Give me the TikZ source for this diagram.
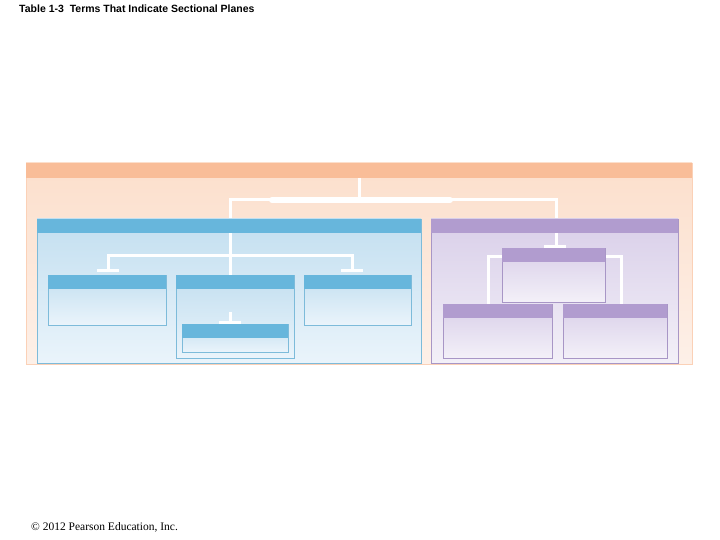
\documentclass[tikz,border=0pt]{standalone}
\usepackage{fontspec}
\setmainfont{Liberation Serif}
\newfontfamily\arialf{Liberation Sans}
\begin{document}
\begin{tikzpicture}[x=1pt,y=-1pt,
  wire/.style={draw=white,line width=3pt},
  bluebox/.style={draw=blueL,line width=0.6pt,top color=blueA,bottom color=blueB},
  purbox/.style={draw=purL,line width=0.6pt,top color=purA,bottom color=purB},
  bluehd/.style={fill=blueH},
  purhd/.style={fill=purH}]
\definecolor{blueA}{HTML}{C3DFF0}\definecolor{blueB}{HTML}{EAF4FB}\definecolor{blueH}{HTML}{67B6DC}\definecolor{blueL}{HTML}{7DBBDA}
\definecolor{purA}{HTML}{D9CFE9}\definecolor{purB}{HTML}{F3F0F8}\definecolor{purH}{HTML}{B19CCF}\definecolor{purL}{HTML}{A896C6}
\definecolor{orA}{HTML}{FCDFCC}\definecolor{orB}{HTML}{FDF0E8}\definecolor{orH}{HTML}{F9BD98}
\useasboundingbox (0,0) rectangle (720,540);
\fill[white] (0,0) rectangle (720,540);
\node[anchor=west,inner sep=0pt,font=\arialf\bfseries\fontsize{10.5}{12}\selectfont] (title) at (19,9) {Table 1-3\ \ Terms That Indicate Sectional Planes};
\node[anchor=west,inner sep=0pt,font=\fontsize{11.5}{13}\selectfont] (foot) at (31,527) {© 2012 Pearson Education, Inc.};
% outer
\path[top color=orA,bottom color=orB,draw=orH!70,line width=0.6pt] (26,163) rectangle (692,364);
\fill[orH] (26,163) rectangle (692,178);
% connectors top
\draw[wire] (359,178) -- (359,200);
\draw[wire] (230,219) -- (230,200) -- (556,200) -- (556,219);
\draw[white,line width=6pt,line cap=round] (272,200) -- (450,200);
% blue panel
\path[bluebox] (37,219) rectangle (421,363);
\fill[bluehd] (37,219) rectangle (421,233);
\draw[wire] (230,233) -- (230,275);
\draw[wire] (108,270) -- (108,255) -- (352,255) -- (352,270);
\draw[white,line width=3pt] (97,270) -- (119,270) (341,270) -- (363,270);
\path[bluebox] (48,275) rectangle (166,325); \fill[bluehd] (48,275) rectangle (166,289);
\path[bluebox] (176,275) rectangle (294,358); \fill[bluehd] (176,275) rectangle (294,289);
\path[bluebox] (304,275) rectangle (411,325); \fill[bluehd] (304,275) rectangle (411,289);
\draw[wire] (230,312) -- (230,322); \draw[white,line width=3pt] (219,322) -- (241,322);
\path[bluebox] (182,324) rectangle (288,352); \fill[bluehd] (182,324) rectangle (288,338);
% purple panel
\path[purbox] (431,219) rectangle (678,363);
\fill[purhd] (431,219) rectangle (678,233);
\draw[wire] (556,233) -- (556,245); \draw[white,line width=3pt] (544,246) -- (566,246);
\draw[wire] (502,256) -- (488,256) -- (488,304);
\draw[wire] (605,256) -- (621,256) -- (621,304);
\path[purbox] (502,248) rectangle (605,302); \fill[purhd] (502,248) rectangle (605,262);
\path[purbox] (443,304) rectangle (552,358); \fill[purhd] (443,304) rectangle (552,318);
\path[purbox] (563,304) rectangle (667,358); \fill[purhd] (563,304) rectangle (667,318);
\end{tikzpicture}
\end{document}
